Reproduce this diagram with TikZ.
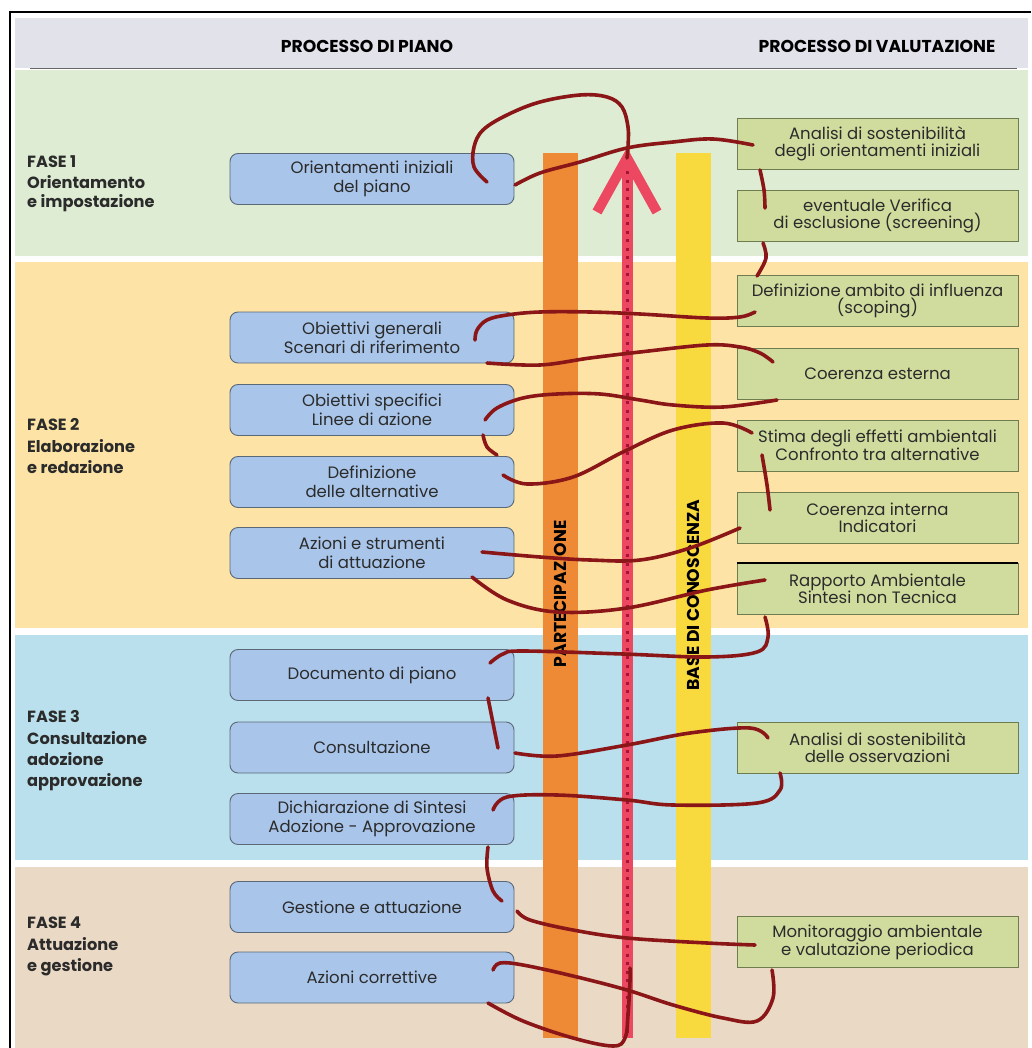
\documentclass[tikz,border=0pt]{standalone}
\usepackage{fontspec}
\setmainfont{Poppins}
\definecolor{hdr}{HTML}{E2E2EA}
\definecolor{bgone}{HTML}{DDECD2}
\definecolor{bgtwo}{HTML}{FDE4A6}
\definecolor{bgthree}{HTML}{B9E0EC}
\definecolor{bgfour}{HTML}{EAD9C5}
\definecolor{pblue}{HTML}{A9C6EA}
\definecolor{pedge}{HTML}{5A6878}
\definecolor{vgreen}{HTML}{D0DC9E}
\definecolor{vedge}{HTML}{6E7C50}
\definecolor{orbar}{HTML}{EE8A36}
\definecolor{yebar}{HTML}{F9DA3E}
\definecolor{pinkl}{HTML}{EC4862}
\definecolor{pinkd}{HTML}{A81236}
\definecolor{scr}{HTML}{8A1618}
\definecolor{txt}{HTML}{2B2B2B}
\begin{document}
\begin{tikzpicture}[x=1pt,y=-1pt,
  pbox/.style={draw=pedge, line width=0.9pt, fill=pblue, rounded corners=8pt,
    minimum width=284pt, minimum height=51pt, align=center, inner sep=0pt,
    text=txt, font=\fontsize{16.5}{19}\selectfont},
  vbox/.style={draw=vedge, line width=0.9pt, fill=vgreen,
    minimum width=281pt, minimum height=51pt, align=center, inner sep=0pt,
    text=txt, font=\fontsize{16.5}{17}\selectfont},
  phase/.style={anchor=base west, inner sep=0pt, text=txt, font=\fontsize{16.2}{20}\selectfont\bfseries},
  hdrtext/.style={inner sep=0pt, anchor=base, text=black, font=\fontsize{17.2}{20}\selectfont\bfseries},
  vlabel/.style={rotate=90, inner sep=0pt, text=black, font=\fontsize{17.2}{20}\selectfont\bfseries},
  scrib/.style={draw=scr, line width=3.6pt, line cap=round, line join=round},
]
\useasboundingbox (0,0) rectangle (1031,1048);
\fill[white] (0,0) rectangle (1031,1048);
% frame
\draw[line width=2pt] (10,1048) -- (10,12) -- (1031,12);
% bands
\fill[hdr] (15,18) rectangle (1028,68);
\draw[line width=1.4pt, black!60] (30,68.5) -- (1017,68.5);
\fill[bgone] (15,70) rectangle (1028,256);
\fill[bgtwo] (15,262) rectangle (1028,628);
\fill[bgthree] (15,635) rectangle (1028,860);
\fill[bgfour] (15,867) rectangle (1028,1048);
% headers
\node[hdrtext] (h1) at (367,53) {PROCESSO DI PIANO};
\node[hdrtext] (h2) at (877,53) {PROCESSO DI VALUTAZIONE};
% bars
\fill[orbar] (543,153) rectangle (578,1038);
\fill[yebar] (676,153) rectangle (711,1038);
\draw[pinkl, line width=11pt] (627,158) -- (627,1038);
\draw[pinkd, line width=3pt, dash pattern=on 3pt off 5.5pt] (627,163) -- (627,1036);
\draw[pinkl, line width=10pt] (597,212) -- (627,158) -- (657,212);
\node[vlabel] (lpart) at (560,594) {PARTECIPAZIONE};
\node[vlabel] (lbase) at (693,595) {BASE DI CONOSCENZA};
% phase labels
\node[phase] (f1a) at (27,168) {FASE 1};
\node[phase] (f1b) at (27,189) {Orientamento};
\node[phase] (f1c) at (27,208) {e impostazione};
\node[phase] (f2a) at (27,430) {FASE 2};
\node[phase] (f2b) at (27,452) {Elaborazione};
\node[phase] (f2c) at (27,473) {e redazione};
\node[phase] (f3a) at (27,722) {FASE 3};
\node[phase] (f3b) at (27,744) {Consultazione};
\node[phase] (f3c) at (27,765) {adozione};
\node[phase] (f3d) at (27,786) {approvazione};
\node[phase] (f4a) at (27,928) {FASE 4};
\node[phase] (f4b) at (27,950) {Attuazione};
\node[phase] (f4c) at (27,971) {e gestione};
% plan boxes
\node[pbox] (p1) at (372,179) {Orientamenti iniziali\\del piano};
\node[pbox] (p2) at (372,337.5) {Obiettivi generali\\Scenari di riferimento};
\node[pbox] (p3) at (372,410) {Obiettivi specifici\\Linee di azione};
\node[pbox] (p4) at (372,482) {Definizione\\delle alternative};
\node[pbox] (p5) at (372,553) {Azioni e strumenti\\di attuazione};
\node[pbox] (p6) at (372,675) {Documento di piano};
\node[pbox] (p7) at (372,747.5) {Consultazione};
\node[pbox] (p8) at (372,819) {Dichiarazione di Sintesi\\Adozione - Approvazione};
\node[pbox] (p9) at (372,907) {Gestione e attuazione};
\node[pbox] (p10) at (372,977.5) {Azioni correttive};
% evaluation boxes
\node[vbox] (v1) at (877.5,144) {Analisi di sostenibilità\\degli orientamenti iniziali};
\node[vbox] (v2) at (877.5,216) {eventuale Verifica\\di esclusione (screening)};
\node[vbox] (v3) at (877.5,301) {Definizione ambito di influenza\\(scoping)};
\node[vbox] (v4) at (877.5,373.5) {Coerenza esterna};
\node[vbox] (v5) at (877.5,445.5) {Stima degli effetti ambientali\\Confronto tra alternative};
\node[vbox] (v6) at (877.5,517.5) {Coerenza interna\\Indicatori};
\node[vbox] (v7) at (877.5,589) {Rapporto Ambientale\\Sintesi non Tecnica};
\draw[line width=1.4pt, black] (v7.north west) -- (v7.north east);
\node[vbox] (v8) at (877.5,747.5) {Analisi di sostenibilità\\delle osservazioni};
\node[vbox] (v9) at (877.5,942) {Monitoraggio ambientale\\e valutazione periodica};
% red scribble
\draw[scrib] plot[smooth, tension=0.6] coordinates {(487,182) (474,167) (474,147) (483,130) (507,115) (540,102) (580,95) (607,97) (622,107) (628,127) (628,147) (627,158)};
\draw[scrib] plot[smooth, tension=0.6] coordinates {(515,185) (540,173) (580,162) (627,148) (673,142) (713,139) (753,145)};
\draw[scrib] plot[smooth, tension=0.6] coordinates {(760,170) (764,190) (765,208)};
\draw[scrib] plot[smooth, tension=0.6] coordinates {(763,243) (766,258) (757,276)};
\draw[scrib] plot[smooth, tension=0.6] coordinates {(475,340) (477,330) (487,320) (507,315) (540,312) (590,312) (640,314) (707,318) (740,317) (755,312)};
\draw[scrib] plot[smooth, tension=0.6] coordinates {(487,363) (540,365) (590,358) (640,352) (707,345) (740,347) (760,353) (773,362)};
\draw[scrib] plot[smooth, tension=0.6] coordinates {(485,420) (497,408) (523,398) (557,394) (600,394) (640,400) (673,405) (723,407) (777,400)};
\draw[scrib] plot[smooth, tension=0.6] coordinates {(483,435) (487,447) (497,455)};
\draw[scrib] plot[smooth, tension=0.6] coordinates {(503,475) (527,484) (573,477) (623,452) (673,430) (723,423) (752,433)};
\draw[scrib] plot[smooth, tension=0.6] coordinates {(762,455) (767,485) (770,510)};
\draw[scrib] plot[smooth, tension=0.6] coordinates {(482,552) (540,557) (590,560) (640,560) (690,548) (740,528)};
\draw[scrib] plot[smooth, tension=0.6] coordinates {(472,577) (507,600) (557,612) (627,608) (707,590) (765,580)};
\draw[scrib] plot[smooth, tension=0.6] coordinates {(765,617) (768,637) (757,652) (707,657) (623,654) (523,651) (503,654) (490,663)};
\draw[scrib] plot[smooth, tension=0.6] coordinates {(488,698) (493,723) (498,748)};
\draw[scrib] plot[smooth, tension=0.6] coordinates {(515,753) (557,756) (627,745) (690,733) (750,728) (768,738)};
\draw[scrib] plot[smooth, tension=0.6] coordinates {(780,773) (780,790) (757,803) (673,805) (627,800) (557,795) (507,797) (493,810)};
\draw[scrib] plot[smooth, tension=0.6] coordinates {(488,847) (487,868) (493,891) (502,901)};
\draw[scrib] plot[smooth, tension=0.6] coordinates {(517,911) (530,920) (573,930) (627,938) (707,943) (755,945)};
\draw[scrib] plot[smooth, tension=0.6] coordinates {(772,970) (773,998) (757,1021) (723,1018) (673,1005) (627,990) (573,976) (523,965) (500,963) (493,970)};
\draw[scrib] plot[smooth, tension=0.6] coordinates {(488,1003) (523,1021) (573,1038) (613,1046) (625,1038) (628,1015) (630,981) (630,968)};
\end{tikzpicture}
\end{document}
